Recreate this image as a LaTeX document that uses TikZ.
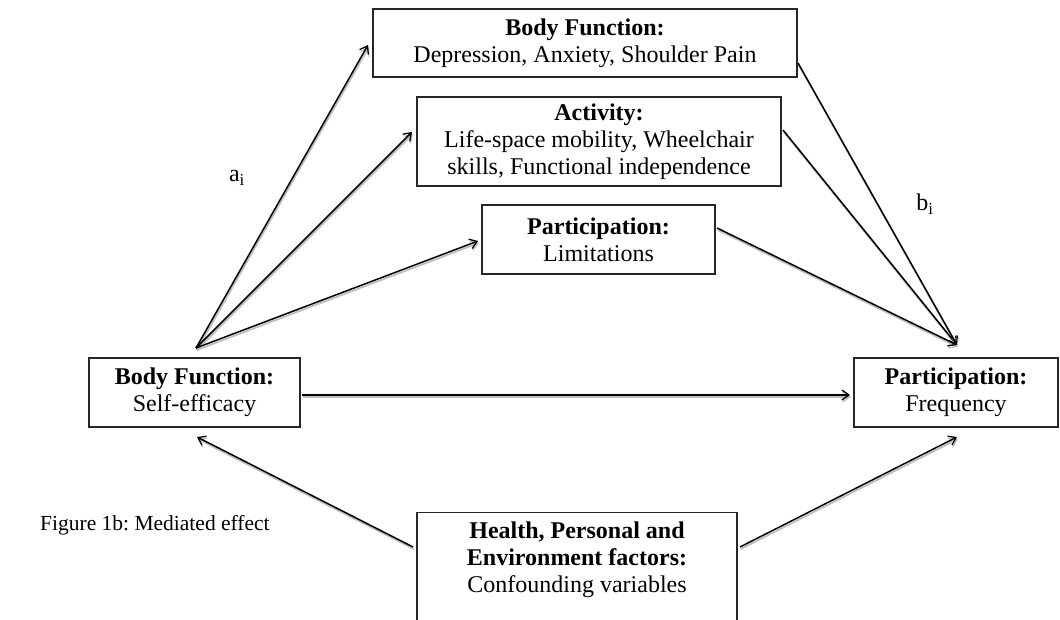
\documentclass[tikz,border=0pt]{standalone}
\usepackage{fontspec}
\setmainfont{Liberation Serif}
\usetikzlibrary{arrows.meta}
\frenchspacing
\tikzset{
  box/.style={draw=black!85, line width=1.3pt, inner sep=0pt, align=center,
    font=\fontsize{24}{27}\selectfont},
  txt/.style={inner sep=0pt, align=center, font=\fontsize{24}{27}\selectfont},
  conn/.style={draw=black, line width=1.5pt,
    preaction={draw=gray!50, line width=1.8pt, transform canvas={shift={(0.8pt,-2pt)}}}},
  arr/.style={conn, -{Straight Barb[length=7pt,width=10pt,line width=1.3pt]}}
}
\begin{document}
\begin{tikzpicture}[x=1pt,y=-1pt]
\useasboundingbox (0,0) rectangle (1060,620);
% boxes
\node[box, minimum width=424, minimum height=68] (bf) at (585,43)
  {\textbf{Body Function:}\\Depression, Anxiety, Shoulder Pain};
\node[box, minimum width=364, minimum height=89] (act) at (599,141.5)
  {\textbf{Activity:}\\Life-space mobility, Wheelchair\\skills, Functional independence};
\node[box, minimum width=233, minimum height=69] (lim) at (598.5,239.5)
  {\textbf{Participation:}\\Limitations};
\node[box, minimum width=211, minimum height=69] (se) at (194.5,392.5)
  {\textbf{Body Function:}\\Self-efficacy};
\node[box, minimum width=204, minimum height=69] (fr) at (956,392.5)
  {\textbf{Participation:}\\Frequency};
\node[box, minimum width=320, minimum height=140, anchor=north] (envbox) at (577,512) {};
\node[txt, anchor=north] (env) at (577,522)
  {\textbf{Health, Personal and}\\\textbf{Environment factors:}\\Confounding variables};
% labels
\node[txt, font=\fontsize{21.5}{24}\selectfont, anchor=west] (fig) at (40,525) {Figure 1b: Mediated effect};
\node[txt] (ai) at (237,178) {a\textsubscript{i}};
\node[txt] (bi) at (925,204) {b\textsubscript{i}};
% connector points
\coordinate (L) at (196,348);
\coordinate (R) at (957,345);
\coordinate (bfin) at (368,45);
\coordinate (actin) at (412,132);
\coordinate (limin) at (478,241);
\coordinate (bfout) at (798,63);
\coordinate (actout) at (783,130);
\coordinate (limout) at (717,228);
\coordinate (seout) at (302,395);
\coordinate (frin) at (850,395);
\coordinate (envl) at (413,547);
\coordinate (envr) at (740,547);
\coordinate (sein) at (197,437);
\coordinate (frbot) at (957,437);
% connectors
\draw[arr] (L) -- (bfin);
\draw[arr] (L) -- (actin);
\draw[arr] (L) -- (limin);
\draw[arr] (bfout) -- (R);
\draw[arr] (actout) -- (R);
\draw[arr] (limout) -- (R);
\draw[arr] (seout) -- (frin);
\draw[arr] (envl) -- (sein);
\draw[arr] (envr) -- (frbot);
\end{tikzpicture}
\end{document}
